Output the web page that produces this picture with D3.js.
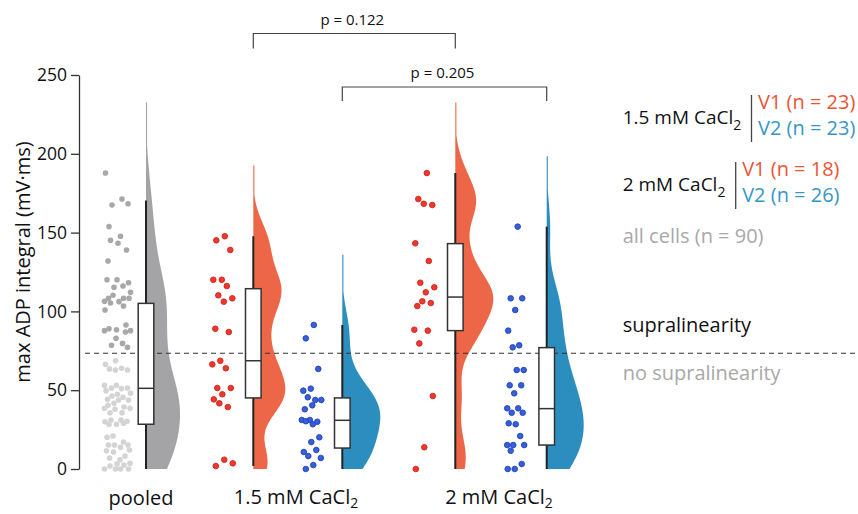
<!DOCTYPE html>
<html>
<head>
<meta charset="utf-8">
<script src="https://cdn.jsdelivr.net/npm/d3@7"></script>
<style>
  body { margin: 0; background: #fff; }
  svg { display: block; font-family: "Open Sans", sans-serif; }
</style>
</head>
<body>
<svg id="chart" width="858" height="514"></svg>
<script>
// ---- data: max ADP integral (mV·ms) per cell ----
const groupKeys = ["pooled", "V1 1.5", "V2 1.5", "V1 2", "V2 2"];

const v1Ca15 = [147.7, 145.1, 139.0, 120.1, 120.1, 116.1, 110.2, 108.3, 106.2, 89.0, 86.9,
                68.7, 66.4, 63.9, 51.4, 51.4, 47.4, 44.2, 39.3, 41.7, 3.6, 5.9, 1.9];
const v2Ca15 = [91.4, 82.9, 63.5, 51.0, 49.7, 43.8, 45.5, 43.8, 40.4, 37.9, 30.0, 31.1,
                31.1, 30.3, 28.4, 20.1, 17.1, 10.8, 12.1, 8.2, 7.0, 2.5, 0.0];
const v1Ca2 = [187.8, 171.3, 167.5, 168.3, 143.2, 132.0, 118.2, 115.3, 112.1, 103.4, 105.3,
               106.4, 88.4, 87.8, 79.7, 46.3, 13.8, 0.0];
const v2Ca2 = [153.8, 108.3, 108.3, 100.9, 87.8, 78.5, 77.2, 62.8, 62.8, 53.1, 53.1, 48.0,
               38.5, 38.5, 35.7, 35.7, 28.4, 29.0, 20.9, 15.2, 15.2, 15.2, 11.6, 3.2, 0.0, 0.0];
const pooledCells = [].concat(v1Ca15, v2Ca15, v1Ca2, v2Ca2);

// box-plot statistics, in group order
const boxQ1 = [28.4, 45.1, 13.3, 87.8, 15.2];
const boxMedian = [51.2, 68.7, 30.9, 109.1, 38.3];
const boxQ3 = [105.1, 114.4, 45.1, 143.0, 77.0];
const whiskerLow = [0, 1.9, 0, 0, 0];
const whiskerHigh = [170.3, 147.7, 91.4, 187.8, 153.8];

const supraThreshold = 73.4;
const yTicks = [0, 50, 100, 150, 200, 250];
const pValueLabels = ["p = 0.122", "p = 0.205"];
const legendCounts = [["V1 (n = 23)", "V2 (n = 23)"], ["V1 (n = 18)", "V2 (n = 26)"]];

const groupValues = [pooledCells, v1Ca15, v2Ca15, v1Ca2, v2Ca2];

// ---- layout ----
const colors = {
  violin: ["#a4a4a7", "#ec6647", "#2c8dbf", "#ec6647", "#2c8dbf"],
  dotFill: [null, "#ea3a2e", "#3560d6", "#ea3a2e", "#3560d6"],
  dotStroke: [null, "#d8201c", "#2242c2", "#d8201c", "#2242c2"],
  pooledHigh: "#a8a8a8",
  pooledLow: "#d4d4d4",
  v1Text: "#ee5434",
  v2Text: "#3796c8",
  grey: "#a8a8a8",
  ink: "#222"
};
const violinMaxWidth = [34, 32, 38, 38, 37];
const kdeBandwidth = [19, 13, 13, 13, 16];
const kdeTail = 45;
const dotBandOffset = [-28.5, -31, -31, -31, -31];
const dotBandHalf = [13, 11, 10, 11, 9];
const textSize = "20px";

const svg = d3.select("#chart");

const y = d3.scaleLinear().domain([0, 250]).range([469, 75]);
const x = d3.scaleOrdinal().domain(groupKeys).range([146, 253.3, 342.3, 455.3, 546.7]);

// ---- y axis ----
const yAxis = svg.append("g")
  .attr("transform", "translate(79,0)")
  .call(d3.axisLeft(y).tickValues(yTicks).tickSize(8).tickSizeOuter(0).tickPadding(4));
yAxis.select(".domain").attr("stroke", "#333").attr("stroke-width", 1.3);
yAxis.selectAll(".tick line").attr("stroke", "#333").attr("stroke-width", 1.3);
yAxis.selectAll(".tick text")
  .attr("fill", "#111")
  .style("font-family", "'Open Sans', sans-serif")
  .style("font-size", "17.5px");

svg.append("text")
  .attr("transform", "translate(30,262) rotate(-90)")
  .attr("text-anchor", "middle")
  .attr("fill", "#111")
  .style("font-size", textSize)
  .text("max ADP integral (mV·ms)");

// ---- violins (half, right of the centre line) ----
function kde(values, bw, lo, hi) {
  const pts = [];
  for (let v = lo; v <= hi; v += 0.5) {
    let s = 0;
    for (const d of values) {
      const u = (v - d) / bw;
      s += Math.exp(-0.5 * u * u);
    }
    pts.push([v, s / (values.length * bw * Math.sqrt(2 * Math.PI))]);
  }
  return pts;
}

groupValues.forEach((vals, i) => {
  const cx = x(groupKeys[i]);
  const dens = kde(vals, kdeBandwidth[i], 0, d3.max(vals) + kdeTail);
  const dmax = d3.max(dens, d => d[1]);
  const w = d3.scaleLinear().domain([0, dmax]).range([0, violinMaxWidth[i]]);
  const area = d3.area()
    .y(d => y(d[0]))
    .x0(cx)
    .x1(d => cx + Math.max(w(d[1]), 1.1))
    .curve(d3.curveBasis);
  svg.append("path")
    .datum(dens)
    .attr("d", area)
    .attr("fill", colors.violin[i]);
});

// ---- threshold line ----
svg.append("line")
  .attr("x1", 85).attr("x2", 858)
  .attr("y1", y(supraThreshold)).attr("y2", y(supraThreshold))
  .attr("stroke", "#333").attr("stroke-width", 1.1)
  .attr("stroke-dasharray", "5,4");

// ---- whiskers and boxes ----
groupKeys.forEach((k, i) => {
  const cx = x(k);
  svg.append("line")
    .attr("x1", cx).attr("x2", cx)
    .attr("y1", y(whiskerLow[i])).attr("y2", y(whiskerHigh[i]))
    .attr("stroke", colors.ink).attr("stroke-width", 2);
  svg.append("rect")
    .attr("x", cx - 7.8).attr("width", 15.6)
    .attr("y", y(boxQ3[i])).attr("height", y(boxQ1[i]) - y(boxQ3[i]))
    .attr("fill", "#fff").attr("stroke", "#333").attr("stroke-width", 1.5);
  svg.append("line")
    .attr("x1", cx - 7.8).attr("x2", cx + 7.8)
    .attr("y1", y(boxMedian[i])).attr("y2", y(boxMedian[i]))
    .attr("stroke", "#333").attr("stroke-width", 1.5);
});

// ---- jittered cell dots (greedy swarm inside a narrow band) ----
function swarm(values, cx, half, r) {
  const placed = [];
  const phi = 0.6180339887;
  return values.map((v, i) => {
    const py = y(v);
    const target = (((i + 1) * phi) % 1 - 0.5) * 2 * half;
    let best = cx, bestScore = -Infinity;
    for (let dx = -half; dx <= half; dx += 0.5) {
      let minD = Infinity;
      for (const p of placed) {
        const d = Math.hypot(p.x - (cx + dx), p.y - py);
        if (d < minD) minD = d;
      }
      const score = Math.min(minD, 2 * r + 0.4) * 10 - Math.abs(dx - target) * 0.05;
      if (score > bestScore) { bestScore = score; best = cx + dx; }
    }
    placed.push({ x: best, y: py });
    return { x: best, y: py, v };
  });
}

groupValues.forEach((vals, i) => {
  const cx = x(groupKeys[i]) + dotBandOffset[i];
  const r = 2.8;
  const pts = swarm(vals, cx, dotBandHalf[i], r);
  svg.append("g").selectAll("circle")
    .data(pts)
    .join("circle")
    .attr("cx", d => d.x)
    .attr("cy", d => d.y)
    .attr("r", r)
    .attr("fill", d => i === 0 ? (d.v >= supraThreshold ? colors.pooledHigh : colors.pooledLow) : colors.dotFill[i])
    .attr("stroke", i === 0 ? "none" : colors.dotStroke[i])
    .attr("stroke-width", i === 0 ? 0 : 0.9);
});

// ---- category labels ----
function caclLabel(sel, prefix, subDy) {
  sel.append("tspan").text(prefix + " CaCl");
  sel.append("tspan").attr("dy", subDy).style("font-size", "14px").text("2");
}
const xl = svg.append("g").attr("fill", "#111").style("font-size", textSize);
xl.append("text").attr("x", 141).attr("y", 505).attr("text-anchor", "middle").text("pooled");
caclLabel(xl.append("text").attr("x", 296).attr("y", 504).attr("text-anchor", "middle"), "1.5 mM", 4);
caclLabel(xl.append("text").attr("x", 499).attr("y", 504).attr("text-anchor", "middle"), "2 mM", 4);

// ---- significance brackets ----
const brackets = [
  { a: "V1 1.5", b: "V1 2", yTop: 33.5, yEnd: 48.5, label: pValueLabels[0] },
  { a: "V2 1.5", b: "V2 2", yTop: 87, yEnd: 101, label: pValueLabels[1] }
];
brackets.forEach(br => {
  const xa = x(br.a), xb = x(br.b);
  svg.append("path")
    .attr("d", `M${xa},${br.yEnd}V${br.yTop}H${xb}V${br.yEnd}`)
    .attr("fill", "none").attr("stroke", "#444").attr("stroke-width", 1.2);
  svg.append("text")
    .attr("x", (xa + xb) / 2 - 2).attr("y", br.yTop - 9)
    .attr("text-anchor", "middle").attr("fill", "#111")
    .style("font-size", "15px")
    .text(br.label);
});

// ---- legend ----
const lg = svg.append("g").style("font-size", textSize);
function legendBlock(prefix, baseY, sepX, counts) {
  const t = lg.append("text").attr("x", 622.7).attr("y", baseY).attr("fill", "#111")
    .style("font-size", "19px");
  caclLabel(t, prefix, 6);
  lg.append("line")
    .attr("x1", sepX).attr("x2", sepX)
    .attr("y1", baseY - 29).attr("y2", baseY + 18)
    .attr("stroke", "#444").attr("stroke-width", 1.3);
  lg.append("text").attr("x", sepX + 6.5).attr("y", baseY - 15.5)
    .attr("fill", colors.v1Text).text(counts[0]);
  lg.append("text").attr("x", sepX + 6.5).attr("y", baseY + 11.3)
    .attr("fill", colors.v2Text).text(counts[1]);
}
legendBlock("1.5 mM", 124, 751.5, legendCounts[0]);
legendBlock("2 mM", 191, 735.7, legendCounts[1]);
lg.append("text").attr("x", 622.7).attr("y", 243.3).attr("fill", colors.grey).text("all cells (n = 90)");
lg.append("text").attr("x", 622.7).attr("y", 331.7).attr("fill", "#111").text("supralinearity");
lg.append("text").attr("x", 622.7).attr("y", 380).attr("fill", colors.grey).text("no supralinearity");
</script>
</body>
</html>
